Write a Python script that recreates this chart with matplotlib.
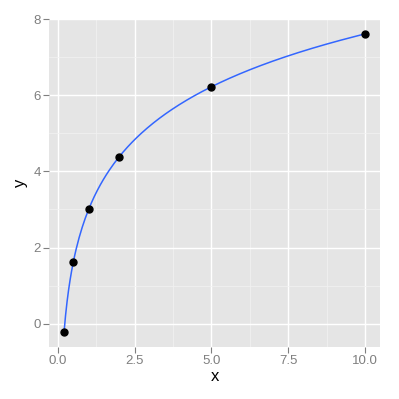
import numpy as np
import matplotlib
matplotlib.use("Agg")
import matplotlib.pyplot as plt

plt.rcParams["font.family"] = ["Liberation Sans", "DejaVu Sans"]

# data points
x_vals = [0.2, 0.5, 1.0, 2.0, 5.0, 10.0]
y_vals = [-0.22, 1.61, 3.0, 4.39, 6.22, 7.61]

x_ticks = [0.0, 2.5, 5.0, 7.5, 10.0]
x_labels = ["0.0", "2.5", "5.0", "7.5", "10.0"]
y_ticks = [0, 2, 4, 6, 8]
y_labels = ["0", "2", "4", "6", "8"]

# smooth: linear model y ~ log(x), fitted to the points
b, a = np.polyfit(np.log(x_vals), y_vals, 1)
xs = np.linspace(min(x_vals), max(x_vals), 200)
ys = a + b * np.log(xs)

fig = plt.figure(figsize=(3.99, 3.99), dpi=100)
ax = fig.add_axes([0.1228, 0.1303, 0.8296, 0.8221])
ax.set_facecolor("#E5E5E5")

ax.plot(xs, ys, color="#3366FF", lw=1.1, zorder=3)
ax.plot(x_vals, y_vals, "o", color="black", ms=5.0, zorder=4)

# ggplot style expansion (5%)
xr = max(x_vals) - min(x_vals)
yr = max(y_vals) - min(y_vals)
ax.set_xlim(min(x_vals) - 0.05 * xr, max(x_vals) + 0.05 * xr)
ax.set_ylim(min(y_vals) - 0.05 * yr, max(y_vals) + 0.05 * yr)

ax.set_xticks(x_ticks)
ax.set_xticklabels(x_labels)
ax.set_yticks(y_ticks)
ax.set_yticklabels(y_labels)
ax.set_xticks([1.25, 3.75, 6.25, 8.75], minor=True)
ax.set_yticks([1, 3, 5, 7], minor=True)

ax.grid(True, which="major", color="white", lw=1.0)
ax.grid(True, which="minor", color="#F2F2F2", lw=0.5)
ax.set_axisbelow(True)

for s in ax.spines.values():
    s.set_visible(False)
ax.tick_params(which="major", length=4, width=0.8, color="#7F7F7F",
               labelcolor="#7F7F7F", labelsize=9.5, pad=2)
ax.tick_params(which="minor", length=0)

ax.set_xlabel("x", fontsize=12, labelpad=1)
ax.set_ylabel("y", fontsize=12, labelpad=4)

fig.savefig("out.png", dpi=100)
